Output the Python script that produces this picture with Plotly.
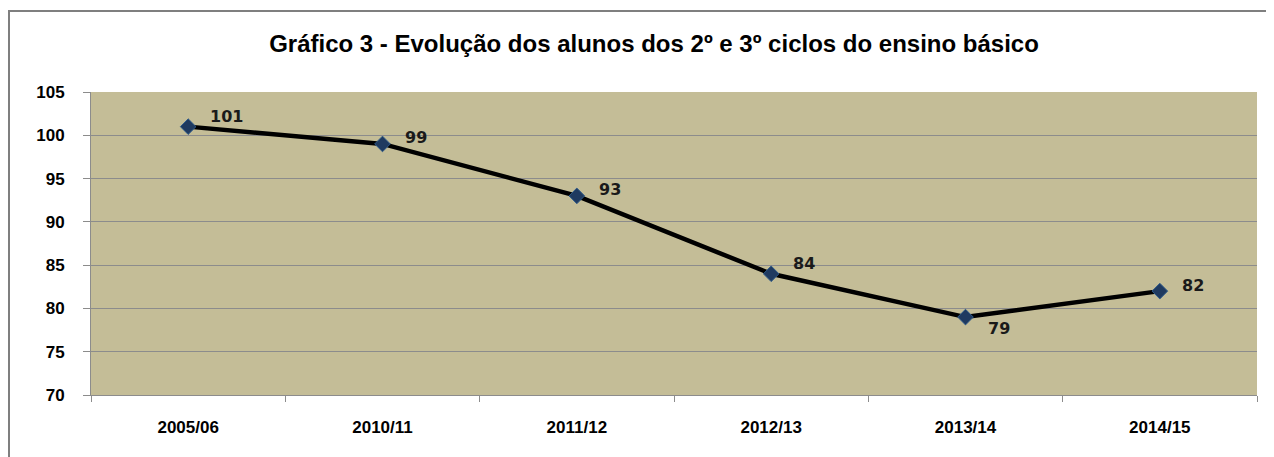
import plotly.graph_objects as go

categories = ["2005/06", "2010/11", "2011/12", "2012/13", "2013/14", "2014/15"]
values = [101, 99, 93, 84, 79, 82]
label_pos = ["tr", "r", "r", "tr", "br", "r"]

W, H = 1274, 457
ML, MT, MR, MB = 83, 84, 25, 70
PW, PH = W - ML - MR, H - MT - MB

fig = go.Figure()
fig.add_trace(go.Scatter(
    x=categories, y=values, mode="lines+markers",
    line=dict(color="black", width=4.5),
    marker=dict(symbol="diamond", size=12, color="#1F3A60", line=dict(color="#2E5A8A", width=1)),
    showlegend=False, hoverinfo="skip",
))

for c, v, p in zip(categories, values, label_pos):
    ys = {"tr": 10, "r": 6, "br": -11}[p]
    fig.add_annotation(x=c, y=v, text="<b>" + str(v) + "</b>", showarrow=False, xanchor="left",
                       xshift=20, yshift=ys,
                       font=dict(family="DejaVu Sans", size=16, color="#1a1a1a"))

fig.update_layout(
    width=W, height=H,
    margin=dict(l=ML, r=MR, t=MT, b=MB),
    paper_bgcolor="white", plot_bgcolor="#C4BD97",
    title=dict(text="<b>Gráfico 3 - Evolução dos alunos dos 2º e 3º ciclos do ensino básico</b>",
               x=646 / W, xref="container", xanchor="center", y=1 - 36 / H, yanchor="middle",
               font=dict(family="Liberation Sans, Arial", size=24, color="black")),
    xaxis=dict(type="category", tickson="boundaries", ticks="outside", ticklen=6,
               tickcolor="#8c8c8c", showline=True, linecolor="#8c8c8c", linewidth=1,
               showgrid=False, range=[-0.5, 5.5], automargin=False, ticklabelstandoff=17,
               tickfont=dict(family="Liberation Sans, Arial", size=17, color="black", weight="bold")),
    yaxis=dict(range=[70, 105], dtick=5, ticks="outside", ticklen=7, tickcolor="#8c8c8c",
               showline=True, linecolor="#8c8c8c", gridcolor="#8c8c8c", gridwidth=1,
               zeroline=False, automargin=False, ticklabelstandoff=15,
               tickfont=dict(family="Liberation Sans, Arial", size=17, color="black", weight="bold")),
    shapes=[dict(type="rect", xref="paper", yref="paper", x0=(1 - ML) / PW, x1=1.2,
                 y0=-0.6, y1=(MT + PH - 3) / PH, line=dict(color="#7f7f7f", width=2), layer="below")],
)

fig.write_html("out.html")
